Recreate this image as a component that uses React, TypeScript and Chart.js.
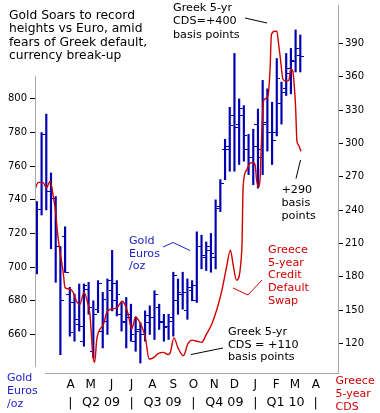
import React, { useEffect, useRef } from "react";
import { Chart, registerables } from "chart.js";

Chart.register(...registerables);

// ---------------- data ----------------
const firstWeek = "2009-02-10"; // weekly gold bars, one per week from here

const goldHigh = [
  739, 780, 791, 756, 742, 712, 724, 688, 684, 690,
  690, 691, 680, 692, 685, 693, 710, 692, 679, 682,
  678, 670, 667, 674, 677, 686, 678, 672, 672, 697,
  693, 697, 693, 692, 721, 719, 715, 720, 740, 752,
  776, 795, 827, 800, 796, 779, 782, 794, 811, 806,
  798, 824, 810, 827, 830, 841, 838,
];
const goldLow = [
  696, 731, 734, 711, 691, 648, 697, 659, 656, 662,
  653, 672, 646, 673, 652, 660, 674, 671, 662, 652,
  656, 650, 643, 656, 660, 657, 663, 656, 657, 659,
  672, 675, 669, 680, 679, 699, 698, 697, 699, 733,
  752, 757, 757, 761, 763, 755, 749, 747, 755, 769,
  761, 778, 785, 802, 803, 816, 816,
];
const goldOpen = [
  711, 734, 779, 745, 741, 712, 718, 684, 679, 666,
  656, 687, 650, 675, 662, 668, 686, 690, 672, 667,
  672, 656, 663, 660, 667, 670, 676, 668, 665, 670,
  680, 684, 674, 686, 680, 712, 706, 712, 706, 736,
  770, 770, 790, 785, 790, 770, 765, 785, 765, 786,
  780, 780, 797, 806, 815, 822, 826,
];
const goldClose = [
  734, 779, 745, 741, 712, 680, 697, 661, 669, 665,
  689, 676, 672, 690, 681, 692, 680, 684, 668, 670,
  660, 662, 660, 671, 670, 684, 667, 664, 668, 695,
  685, 685, 688, 689, 712, 707, 710, 708, 735, 750,
  772, 784, 783, 794, 778, 765, 772, 770, 785, 780,
  775, 812, 804, 818, 823, 830, 825,
];

const cdsDates = [
  "2009-02-08", "2009-02-12", "2009-02-19", "2009-02-24", "2009-03-02", "2009-03-07",
  "2009-03-10", "2009-03-13", "2009-03-17", "2009-03-21", "2009-03-24", "2009-03-31",
  "2009-04-05", "2009-04-10", "2009-04-15", "2009-04-21", "2009-04-26", "2009-04-30",
  "2009-05-02", "2009-05-04", "2009-05-07", "2009-05-10", "2009-05-12", "2009-05-15",
  "2009-05-20", "2009-05-25", "2009-06-01", "2009-06-09", "2009-06-17", "2009-06-21",
  "2009-06-26", "2009-07-01", "2009-07-03", "2009-07-07", "2009-07-12", "2009-07-17",
  "2009-07-22", "2009-07-27", "2009-08-02", "2009-08-10", "2009-08-17", "2009-08-24",
  "2009-08-27", "2009-09-02", "2009-09-08", "2009-09-16", "2009-09-23", "2009-09-29",
  "2009-10-06", "2009-10-13", "2009-10-21", "2009-10-28", "2009-11-05", "2009-11-12",
  "2009-11-19", "2009-11-25", "2009-11-29", "2009-12-04", "2009-12-12", "2009-12-14",
  "2009-12-19", "2009-12-24", "2009-12-29", "2010-01-01", "2010-01-03", "2010-01-06",
  "2010-01-08", "2010-01-10", "2010-01-13", "2010-01-15", "2010-01-20", "2010-01-23",
  "2010-01-25", "2010-01-30", "2010-02-02", "2010-02-05", "2010-02-08", "2010-02-11",
  "2010-02-16", "2010-02-20", "2010-02-23", "2010-02-26", "2010-02-28", "2010-03-02",
  "2010-03-04", "2010-03-06", "2010-03-10",
];
const cdsValues = [
  260, 265, 265, 260, 266, 250,
  238, 218, 200, 185, 170, 169,
  166, 158, 155, 166, 158, 146,
  129, 111, 103, 123, 129, 133,
  137, 148, 151, 152, 158, 155,
  146, 133, 136, 144, 140, 134,
  123, 106, 107, 111, 112, 110,
  111, 125, 116, 109, 120, 123,
  122, 121, 129, 137, 151, 167,
  188, 204, 191, 177, 205, 262,
  276, 282, 283, 280, 267, 261,
  267, 299, 337, 340, 343, 367,
  398, 401, 401, 388, 373, 358,
  356, 357, 367, 365, 352, 333,
  302, 299, 293,
];

const monthLabels = ["A", "M", "J", "J", "A", "S", "O", "N", "D", "J", "F", "M", "A"];
const quarterLabels = ["Q2 09", "Q3 09", "Q4 09", "Q1 10"];
const goldTicks = [660, 680, 700, 720, 740, 760, 780, 800];
const cdsTicks = [120, 150, 180, 210, 240, 270, 300, 330, 360, 390];

// ---------------- helpers ----------------
const BLUE = "#0000b0";
const LABEL_BLUE = "#2222c8";
const RED = "#d00000";
const AXIS_GRAY = "#a8a8a8";
const FONT = "'DejaVu Sans', Verdana, sans-serif";

const DAY = 86400000;
const ORIGIN = Date.UTC(2009, 3, 1);
const dayOf = (iso: string) => (Date.parse(iso + "T00:00:00Z") - ORIGIN) / DAY;
const monthStart = (k: number) => (Date.UTC(2009, 3 + k, 1) - ORIGIN) / DAY;

const weekDays = goldHigh.map((_, i) => dayOf(firstWeek) + 7 * i);
const monthDays = monthLabels.map((_, k) => monthStart(k));
const quarterStarts = [0, 3, 6, 9, 12].map((m) => monthStart(m));
const quarterMids = quarterLabels.map((_, k) => (quarterStarts[k] + quarterStarts[k + 1]) / 2);
const quarterTicks = [
  ...quarterStarts.map((v) => ({ value: v, label: "|" })),
  ...quarterMids.map((v, k) => ({ value: v, label: quarterLabels[k] })),
].sort((a, b) => a.value - b.value);

function makeTickImage(side: "left" | "right") {
  const c = document.createElement("canvas");
  c.width = 7;
  c.height = 1;
  const g = c.getContext("2d")!;
  g.fillStyle = BLUE;
  if (side === "left") g.fillRect(0, 0, 4, 1);
  else g.fillRect(3, 0, 4, 1);
  return c;
}

const textBlocks = [
  { lines: ["Gold Soars to record", "heights vs Euro, amid", "fears of Greek default,", "currency break-up"], x: 9, y: 18.5, lh: 13.6, color: "#000", size: 12.3 },
  { lines: ["Greek 5-yr", "CDS=+400", "basis points"], x: 173, y: 11, lh: 13.3, color: "#000", size: 11.2 },
  { lines: ["+290", "basis", "points"], x: 281.5, y: 193.3, lh: 12.9, color: "#000", size: 11.2 },
  { lines: ["Gold", "Euros", "/oz"], x: 129, y: 244, lh: 12.7, color: LABEL_BLUE, size: 11.1 },
  { lines: ["Greece", "5-year", "Credit", "Default", "Swap"], x: 268, y: 252.7, lh: 12.8, color: RED, size: 11.2 },
  { lines: ["Greek 5-yr", "CDS = +110", "basis points"], x: 228, y: 335, lh: 12.7, color: "#000", size: 11.2 },
  { lines: ["Gold", "Euros", "/oz"], x: 7, y: 381, lh: 12.8, color: LABEL_BLUE, size: 11 },
  { lines: ["Greece", "5-year", "CDS"], x: 335.5, y: 384.3, lh: 12.9, color: RED, size: 11 },
];

const connectors = [
  { pts: [[245, 18], [267, 23]], color: "#000" },
  { pts: [[300.5, 160], [296, 178.5]], color: "#000" },
  { pts: [[163, 247], [173, 242.5], [190, 250.5]], color: LABEL_BLUE },
  { pts: [[233, 288], [248, 295], [262, 280]], color: RED },
  { pts: [[191, 354.5], [223, 348]], color: "#000" },
];

const decorPlugin = {
  id: "decor",
  afterDraw(chart: any) {
    const { ctx, chartArea } = chart;
    const y = chart.scales.y;
    ctx.save();
    ctx.strokeStyle = AXIS_GRAY;
    ctx.lineWidth = 1;
    ctx.beginPath();
    ctx.moveTo(chartArea.left + 0.5, Math.round(y.getPixelForValue(813.5)));
    ctx.lineTo(chartArea.left + 0.5, Math.round(y.getPixelForValue(640.5)));
    ctx.moveTo(chartArea.left + 10, chartArea.bottom + 0.5);
    ctx.lineTo(chartArea.right, chartArea.bottom + 0.5);
    ctx.stroke();

    for (const c of connectors) {
      ctx.strokeStyle = c.color;
      ctx.lineWidth = 1;
      ctx.beginPath();
      c.pts.forEach(([px, py], i) => (i === 0 ? ctx.moveTo(px, py) : ctx.lineTo(px, py)));
      ctx.stroke();
    }

    ctx.textBaseline = "alphabetic";
    ctx.textAlign = "left";
    for (const b of textBlocks) {
      ctx.fillStyle = b.color;
      ctx.font = `${b.size}px ${FONT}`;
      b.lines.forEach((line, i) => ctx.fillText(line, b.x, b.y + i * b.lh));
    }
    ctx.restore();
  },
};

const X_MIN = -52.8;
const X_MAX = 398.1;

export default function App() {
  const ref = useRef<HTMLCanvasElement>(null);

  useEffect(() => {
    if (!ref.current) return;
    Chart.defaults.font.family = FONT;
    const openImg = makeTickImage("left");
    const closeImg = makeTickImage("right");

    const chart = new Chart(ref.current, {
      type: "bar",
      data: {
        datasets: [
          {
            type: "line",
            label: "Greece 5-year CDS",
            data: cdsDates.map((d, i) => ({ x: dayOf(d), y: cdsValues[i] })),
            yAxisID: "y1",
            xAxisID: "x",
            borderColor: RED,
            borderWidth: 1.4,
            pointRadius: 0,
            cubicInterpolationMode: "monotone",
            fill: false,
            order: 0,
          } as any,
          {
            type: "scatter",
            label: "open",
            data: weekDays.map((d, i) => ({ x: d, y: goldOpen[i] })),
            yAxisID: "y",
            xAxisID: "x",
            pointStyle: openImg,
            pointRadius: 3,
            order: 1,
          } as any,
          {
            type: "scatter",
            label: "close",
            data: weekDays.map((d, i) => ({ x: d, y: goldClose[i] })),
            yAxisID: "y",
            xAxisID: "x",
            pointStyle: closeImg,
            pointRadius: 3,
            order: 1,
          } as any,
          {
            type: "bar",
            label: "Gold Euros/oz",
            data: weekDays.map((d, i) => ({ x: d, y: [goldLow[i], goldHigh[i]] })),
            yAxisID: "y",
            xAxisID: "x",
            backgroundColor: BLUE,
            borderWidth: 0,
            barThickness: 1.5,
            grouped: false,
            order: 2,
          } as any,
        ],
      },
      options: {
        animation: false,
        responsive: false,
        devicePixelRatio: 1,
        events: [],
        layout: { padding: 0 },
        plugins: {
          legend: { display: false },
          tooltip: { enabled: false },
          title: { display: false },
        },
        scales: {
          x: {
            type: "linear",
            position: "bottom",
            min: X_MIN,
            max: X_MAX,
            offset: false,
            weight: 0,
            grid: { display: false, drawTicks: false },
            border: { display: false },
            ticks: {
              autoSkip: false,
              maxRotation: 0,
              padding: 5,
              color: "#000",
              font: { size: 12 },
              callback: (_v: any, i: number) => monthLabels[i],
            },
            afterBuildTicks: (s: any) => {
              s.ticks = monthDays.map((v) => ({ value: v }));
            },
            afterFit: (s: any) => {
              s.height = 20;
              s.paddingLeft = 0;
              s.paddingRight = 0;
            },
          },
          xq: {
            type: "linear",
            position: "bottom",
            min: X_MIN,
            max: X_MAX,
            offset: false,
            weight: 1,
            grid: { display: false, drawTicks: false },
            border: { display: false },
            ticks: {
              autoSkip: false,
              maxRotation: 0,
              padding: 2,
              color: "#000",
              font: { size: 12.7 },
              callback: (_v: any, i: number) => quarterTicks[i]?.label ?? "",
            },
            afterBuildTicks: (s: any) => {
              s.ticks = quarterTicks.map((t) => ({ value: t.value }));
            },
            afterFit: (s: any) => {
              s.height = 20;
              s.paddingLeft = 0;
              s.paddingRight = 0;
            },
          },
          y: {
            type: "linear",
            position: "left",
            min: 637.1,
            max: 855.8,
            grid: { display: true, drawOnChartArea: false, drawTicks: true, tickLength: 5, tickColor: "#000" },
            border: { display: false },
            ticks: { padding: 3, color: "#000", font: { size: 10 } },
            afterBuildTicks: (s: any) => {
              s.ticks = goldTicks.map((v) => ({ value: v }));
            },
            afterFit: (s: any) => {
              s.width = 35;
              s.paddingTop = 0;
              s.paddingBottom = 0;
            },
          },
          y1: {
            type: "linear",
            position: "right",
            min: 93.4,
            max: 424.6,
            grid: { display: true, drawOnChartArea: false, drawTicks: true, tickLength: 5, tickColor: "#000" },
            border: { display: true, color: AXIS_GRAY, width: 1 },
            ticks: { padding: 2, color: "#000", font: { size: 10 } },
            afterBuildTicks: (s: any) => {
              s.ticks = cdsTicks.map((v) => ({ value: v }));
            },
            afterFit: (s: any) => {
              s.width = 42;
              s.paddingTop = 0;
              s.paddingBottom = 0;
            },
          },
        } as any,
      },
      plugins: [decorPlugin],
    });
    return () => chart.destroy();
  }, []);

  return (
    <div style={{ position: "fixed", left: 0, top: 0, width: 380, height: 413, background: "#fff" }}>
      <canvas ref={ref} width={380} height={413} style={{ display: "block", width: 380, height: 413 }} />
    </div>
  );
}
